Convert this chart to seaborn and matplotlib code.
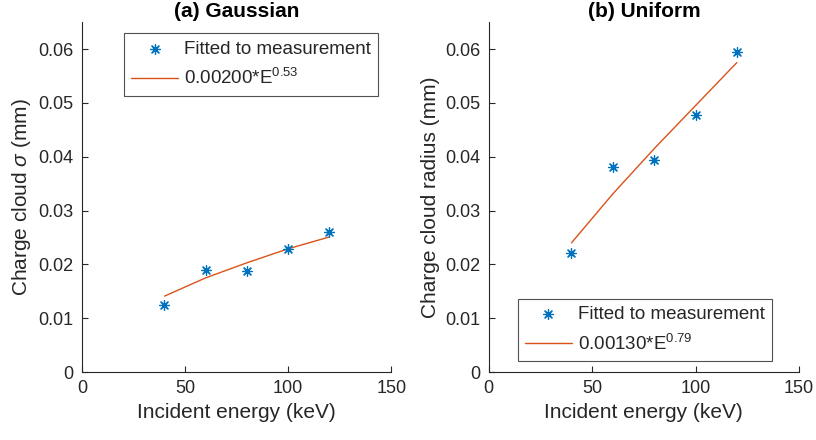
import numpy as np
import pandas as pd
import matplotlib
matplotlib.use('Agg')
import matplotlib.pyplot as plt
import seaborn as sns

# ── data ─────────────────────────────────────────────────────────────────────
energy_kev = [40, 60, 80, 100, 120]

gauss_meas = [0.0124, 0.0189, 0.0187, 0.0229, 0.0261]
gauss_fit = [0.0141, 0.0175, 0.0203, 0.0229, 0.0251]

unif_meas = [0.0222, 0.0381, 0.0394, 0.0478, 0.0594]
unif_fit = [0.0240, 0.0331, 0.0415, 0.0495, 0.0575]

titles = ['(a) Gaussian', '(b) Uniform']
ylabels = [r'Charge cloud $\sigma$ (mm)', 'Charge cloud radius (mm)']
fit_labels = [r'0.00200*E$^{\mathsf{0.53}}$', r'0.00130*E$^{\mathsf{0.79}}$']

x_ticks = [0, 50, 100, 150]
y_ticks = [0, 0.01, 0.02, 0.03, 0.04, 0.05, 0.06]

BLUE = '#0072BD'
ORANGE = '#D95319'
AXC = '#262626'

sns.set_theme(style='ticks')
plt.rcParams['font.family'] = ['Liberation Sans', 'DejaVu Sans']
plt.rcParams['mathtext.fontset'] = 'custom'
plt.rcParams['mathtext.rm'] = 'Liberation Sans'
plt.rcParams['mathtext.sf'] = 'Liberation Sans'
plt.rcParams['mathtext.it'] = 'Liberation Sans:italic'
plt.rcParams['xtick.direction'] = 'in'
plt.rcParams['ytick.direction'] = 'in'

fig = plt.figure(figsize=(8.16, 4.4), dpi=100)
ax1 = fig.add_axes([0.1005, 0.1545, 0.379, 0.795])
ax2 = fig.add_axes([0.599, 0.1545, 0.380, 0.795])

panels = [
    (ax1, gauss_meas, gauss_fit, 'upper right', (0.958, 0.969)),
    (ax2, unif_meas, unif_fit, 'lower right', (0.913, 0.031)),
]

for i, (ax, meas, fit, loc, anchor) in enumerate(panels):
    df = pd.DataFrame({'E': energy_kev, 'meas': meas, 'fit': fit})
    sns.scatterplot(data=df, x='E', y='meas', ax=ax, marker=(8, 2, 0),
                    s=50, color=BLUE, linewidth=0.9, edgecolor=BLUE,
                    label='Fitted to measurement', zorder=3)
    sns.lineplot(data=df, x='E', y='fit', ax=ax, color=ORANGE, linewidth=1.0,
                 label=fit_labels[i])

    ax.set_xlim(0, 150)
    ax.set_ylim(0, 0.065)
    ax.set_xticks(x_ticks)
    ax.set_yticks(y_ticks)
    ax.set_yticklabels(['0' if v == 0 else f'{v:.2f}' for v in y_ticks])
    ax.tick_params(labelsize=13, colors=AXC, length=4, width=0.8, pad=6)
    ax.set_xlabel('Incident energy (keV)', fontsize=15, color=AXC)
    ax.set_ylabel(ylabels[i], fontsize=15, color=AXC)
    ax.set_title(titles[i], fontsize=15, fontweight='bold', color='black',
                 pad=4)
    for side in ['top', 'right']:
        ax.spines[side].set_visible(False)
    for side in ['left', 'bottom']:
        ax.spines[side].set_color(AXC)
        ax.spines[side].set_linewidth(0.8)

    leg = ax.legend(loc=loc, bbox_to_anchor=anchor, fontsize=13.5,
                    frameon=True, fancybox=False, borderaxespad=0,
                    handlelength=2.5, borderpad=0.4, labelspacing=0.55,
                    handletextpad=0.3)
    leg.get_frame().set_edgecolor(AXC)
    leg.get_frame().set_linewidth(0.8)

fig.savefig('out.png', dpi=100)
